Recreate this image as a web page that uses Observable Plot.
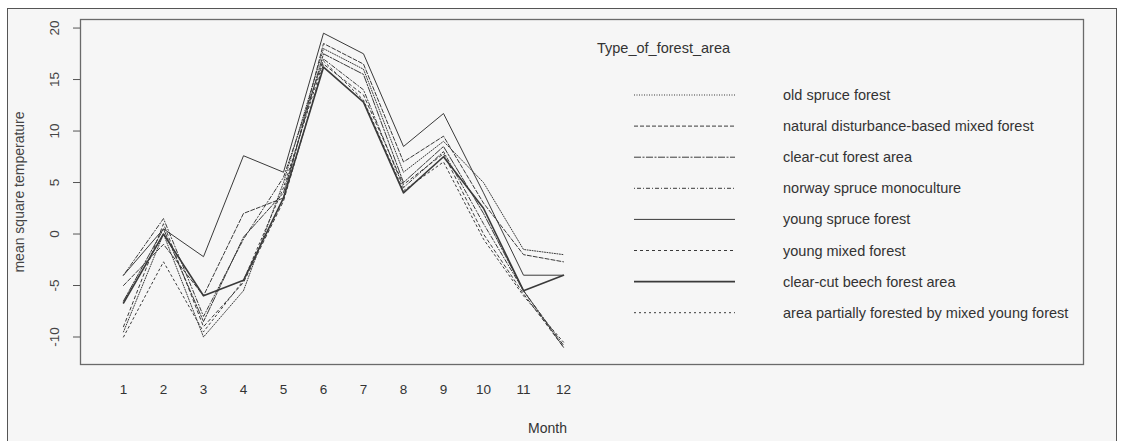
<!DOCTYPE html>
<html>
<head>
<meta charset="utf-8">
<script src="https://cdn.jsdelivr.net/npm/d3@7"></script>
<script src="https://cdn.jsdelivr.net/npm/@observablehq/plot@0.6"></script>
<style>
  html, body { margin: 0; padding: 0; background: #ffffff; }
  #wrap { position: relative; width: 1127px; height: 441px; overflow: hidden; background: #ffffff; font-family: "Liberation Sans", Arial, sans-serif; }
  #frame { position: absolute; left: 7px; top: 8px; width: 1110px; height: 520px; border: 1.5px solid #555; background: #f6f6f6; box-sizing: border-box; }
  #chart { position: absolute; left: 0; top: 0; }
  #legend { position: absolute; left: 0; top: 0; width: 1127px; height: 441px; pointer-events: none; }
</style>
</head>
<body>
<div id="wrap">
  <div id="frame"></div>
  <div id="chart"></div>
  <svg id="legend" width="1127" height="441"></svg>
</div>
<script>
// ---- data ----
const months = [1, 2, 3, 4, 5, 6, 7, 8, 9, 10, 11, 12];
const forestTypes = [
  "old spruce forest",
  "natural disturbance-based mixed forest",
  "clear-cut forest area",
  "norway spruce monoculture",
  "young spruce forest",
  "young mixed forest",
  "clear-cut beech forest area",
  "area partially forested by mixed young forest"
];
const oldSpruce        = [-9.5, 0.0, -10.0, -5.5, 5.0, 18.0, 16.0, 6.0, 9.0, 5.0, -1.5, -2.0];
const naturalMixed     = [-5.0, -1.0, -6.0, 2.0, 3.5, 18.5, 16.5, 7.0, 9.5, 3.0, -2.0, -2.7];
const clearCut         = [-6.5, 0.5, -8.5, -0.3, 4.0, 17.5, 15.5, 5.0, 8.5, 2.0, -5.5, -11.0];
const norwaySpruce     = [-4.0, 1.5, -8.0, -0.5, 5.5, 17.0, 14.0, 4.5, 8.0, 1.0, -5.5, -10.8];
const youngSpruce      = [-4.0, 0.5, -2.2, 7.6, 6.0, 19.5, 17.5, 8.5, 11.7, 4.0, -4.0, -4.0];
const youngMixed       = [-9.0, 1.0, -9.0, -4.7, 3.2, 16.5, 13.5, 4.8, 7.8, 0.0, -5.8, -11.0];
const clearCutBeech    = [-6.7, 0.0, -6.0, -4.5, 3.5, 16.2, 12.8, 4.0, 7.5, 2.5, -5.5, -4.0];
const partiallyForested= [-10.0, -2.7, -9.5, -4.5, 4.5, 16.8, 13.0, 4.2, 7.0, -0.5, -6.0, -10.5];
const seriesValues = [oldSpruce, naturalMixed, clearCut, norwaySpruce, youngSpruce, youngMixed, clearCutBeech, partiallyForested];
const yTicks = [-10, -5, 0, 5, 10, 15, 20];

// ---- styles ----
const dashes = ["1,1.5", "4,2", "7,1.5,2,1.5", "1,2,4,2", null, "3,3", null, "2,3"];
const widths = [1, 1, 1, 1, 1, 1, 1.6, 1];
const strokeCol = "#3a3a3a";
const FONT = "'Liberation Sans', Arial, sans-serif";

const rows = [];
forestTypes.forEach((t, i) => months.forEach((m, j) => rows.push({type: t, month: m, value: seriesValues[i][j], idx: i})));

const lineMarks = forestTypes.map((t, i) =>
  Plot.line(rows.filter(r => r.idx === i), {
    x: "month", y: "value",
    stroke: strokeCol, strokeWidth: widths[i],
    strokeDasharray: dashes[i] || undefined
  })
);

const chart = Plot.plot({
  width: 1127,
  height: 441,
  marginLeft: 80,
  marginRight: 44,
  marginTop: 19,
  marginBottom: 77,
  style: {background: "transparent", fontFamily: FONT, color: "#333"},
  x: {domain: [-0.075, 25]},
  y: {domain: [-12.67, 20.83]},
  marks: [
    Plot.frame({stroke: "#6a6a6a", strokeWidth: 1.3}),
    Plot.axisY({ticks: yTicks, tickSize: 7, tickFormat: () => "", label: null, stroke: "#555"}),
    Plot.text(yTicks, {y: d => d, text: d => String(d), frameAnchor: "left", dx: -26, rotate: -90,
      textAnchor: "middle", lineAnchor: "middle", fontSize: 13.5, fill: "#444"}),
    Plot.axisX({ticks: months, tickSize: 0, tickPadding: 20, label: null, tickFormat: d => String(d), fontSize: 13.5, fill: "#333"}),
    Plot.text(["mean square temperature"], {frameAnchor: "left", dx: -61, rotate: -90, textAnchor: "middle", lineAnchor: "middle", fontSize: 14, fill: "#444"}),
    Plot.text(["Month"], {frameAnchor: "bottom-left", dx: 467, dy: 64, textAnchor: "middle", lineAnchor: "middle", fontSize: 14, fill: "#333"}),
    ...lineMarks
  ]
});
document.getElementById("chart").appendChild(chart);

// ---- legend ----
const lg = d3.select("#legend");
lg.append("text").attr("x", 597).attr("y", 48).attr("dy", "0.35em")
  .attr("font-family", FONT).attr("font-size", 14.5).attr("fill", "#333")
  .text("Type_of_forest_area");
forestTypes.forEach((t, i) => {
  const y = 95 + i * 31.1;
  lg.append("line").attr("x1", 634).attr("x2", 735).attr("y1", y).attr("y2", y)
    .attr("stroke", strokeCol).attr("stroke-width", widths[i])
    .attr("stroke-dasharray", dashes[i] || null);
  lg.append("text").attr("x", 783).attr("y", y).attr("dy", "0.35em")
    .attr("font-family", FONT).attr("font-size", 14.5).attr("fill", "#333")
    .text(t);
});
</script>
</body>
</html>
